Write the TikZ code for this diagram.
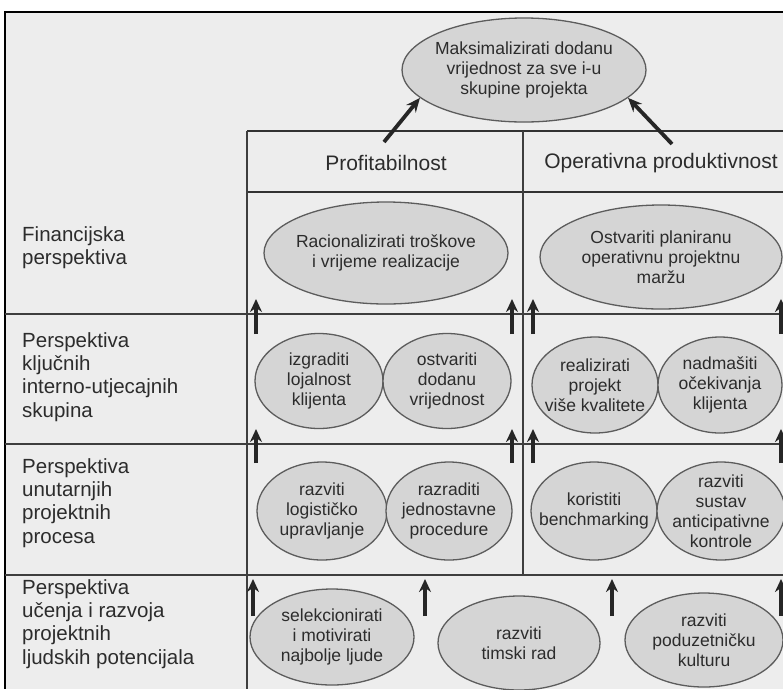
\documentclass[tikz,border=0pt]{standalone}
\usepackage{fontspec}
\setmainfont{Liberation Sans}
\usepackage{tikz}
\usetikzlibrary{arrows.meta,shapes.geometric}
\usepackage{xcolor}
\definecolor{bscPaper}{HTML}{EDEDED}
\definecolor{bscFill}{HTML}{D5D5D5}
\definecolor{bscEdge}{HTML}{5C5C5C}
\definecolor{bscGrid}{HTML}{3E3E3E}
\definecolor{bscText}{HTML}{2C2C2C}
\tikzset{
    % frame and table lines
    frameline/.style={draw=black, line width=2.6pt},
    headline/.style={draw=bscGrid!80!black, line width=2.4pt},
    gridline/.style={draw=bscGrid, line width=1.5pt},
    % text styles
    colhead/.style={inner sep=0pt, text=bscText, font=\fontsize{21}{24}\selectfont},
    rowlabel/.style={anchor=west, align=left, inner sep=0pt, text=bscText, font=\fontsize{20.5}{23.3}\selectfont},
    % goal bubbles
    bubble/.style={ellipse, draw=bscEdge, fill=bscFill, line width=1.3pt, align=center, inner xsep=-15pt, inner ysep=-8pt, text=bscText, font=\fontsize{17.5}{20}\selectfont},
    % arrows
    goalarrow/.style={-{Stealth[length=14pt,width=12pt]}, line width=3.8pt, draw=black!85},
    uparrow/.style={-{Stealth[length=13pt,width=12pt]}, line width=4pt, draw=black!85}
}

\begin{document}
\begin{tikzpicture}[x=1pt,y=-1pt]
    % Page, paper and frame
    \clip (0,0) rectangle (783,689);
    \fill[white] (0,0) rectangle (783,689);
    \fill[bscPaper] (5,12) rectangle (783,689);
    \draw[frameline] (783,12) -- (5,12) -- (5,689);

    % Table grid
    \draw[headline] (247,131) -- (783,131);
    \draw[headline] (247,192) -- (783,192);
    \draw[gridline] (247,131) -- (247,689);
    \draw[gridline] (523,131) -- (523,575);
    \draw[gridline] (5,314) -- (783,314);
    \draw[gridline] (5,444) -- (783,444);
    \draw[gridline] (5,575) -- (783,575);

    % Top goal and column headers
    \node[bubble, minimum width=244pt, minimum height=104pt] (goal) at (524,70) {Maksimalizirati dodanu\\vrijednost za sve i-u\\skupine projekta};
    \node[colhead] (hprof) at (386,163) {Profitabilnost};
    \node[colhead] (hoper) at (661,163) {Operativna produktivnost};
    \coordinate (tprof) at (384,142);
    \coordinate (toper) at (672,144);
    \draw[goalarrow] (tprof) -- (goal.195);
    \draw[goalarrow] (toper) -- (goal.345);

    % Row labels
    \node[rowlabel] (lfin) at (22,248) {Financijska\\perspektiva};
    \node[rowlabel] (lkey) at (22,377) {Perspektiva\\ključnih\\interno-utjecajnih\\skupina};
    \node[rowlabel] (lproc) at (22,503) {Perspektiva\\unutarnjih\\projektnih\\procesa};
    \node[rowlabel] (llearn) at (22,624) {Perspektiva\\učenja i razvoja\\projektnih\\ljudskih potencijala};

    % Financial perspective
    \node[bubble, minimum width=244pt, minimum height=102pt] (eracio) at (386,253) {Racionalizirati troškove\\i vrijeme realizacije};
    \node[bubble, minimum width=242pt, minimum height=104pt] (eplan) at (661,257) {Ostvariti planiranu\\operativnu projektnu\\maržu};

    % Key stakeholder perspective
    \node[bubble, minimum width=128pt, minimum height=95pt] (elojal) at (319,381) {izgraditi\\lojalnost\\klijenta};
    \node[bubble, minimum width=128pt, minimum height=95pt] (edodan) at (447,381) {ostvariti\\dodanu\\vrijednost};
    \node[bubble, minimum width=126pt, minimum height=96pt] (ekval) at (595,385) {realizirati\\projekt\\više kvalitete};
    \node[bubble, minimum width=124pt, minimum height=96pt] (eocek) at (720,385) {nadmašiti\\očekivanja\\klijenta};

    % Internal process perspective
    \node[bubble, minimum width=130pt, minimum height=98pt] (elogist) at (322,511) {razviti\\logističko\\upravljanje};
    \node[bubble, minimum width=126pt, minimum height=98pt] (eproc) at (449,511) {razraditi\\jednostavne\\procedure};
    \node[bubble, minimum width=126pt, minimum height=98pt] (ebench) at (594,511) {koristiti\\benchmarking};
    \node[bubble, minimum width=128pt, minimum height=98pt] (eantic) at (721,511) {razviti\\sustav\\anticipativne\\kontrole};

    % Learning and growth perspective
    \node[bubble, minimum width=164pt, minimum height=96pt] (eselek) at (332,637) {selekcionirati\\i motivirati\\najbolje ljude};
    \node[bubble, minimum width=162pt, minimum height=94pt] (etim) at (519,643) {razviti\\timski rad};
    \node[bubble, minimum width=158pt, minimum height=94pt] (epoduz) at (704,640) {razviti\\poduzetničku\\kulturu};

    % Upward arrows between perspectives
    \foreach \ya/\yb/\r in {334/299/1, 463/429/2} {
        \foreach \x [count=\i] in {256,512,533,781} {
            \coordinate (ua\r\i) at (\x,\ya);
            \coordinate (ub\r\i) at (\x,\yb);
            \draw[uparrow] (ua\r\i) -- (ub\r\i);
        }
    }
    \foreach \x [count=\i] in {253,425,612,781} {
        \coordinate (la\i) at (\x,616);
        \coordinate (lb\i) at (\x,579);
        \draw[uparrow] (la\i) -- (lb\i);
    }
\end{tikzpicture}
\end{document}
